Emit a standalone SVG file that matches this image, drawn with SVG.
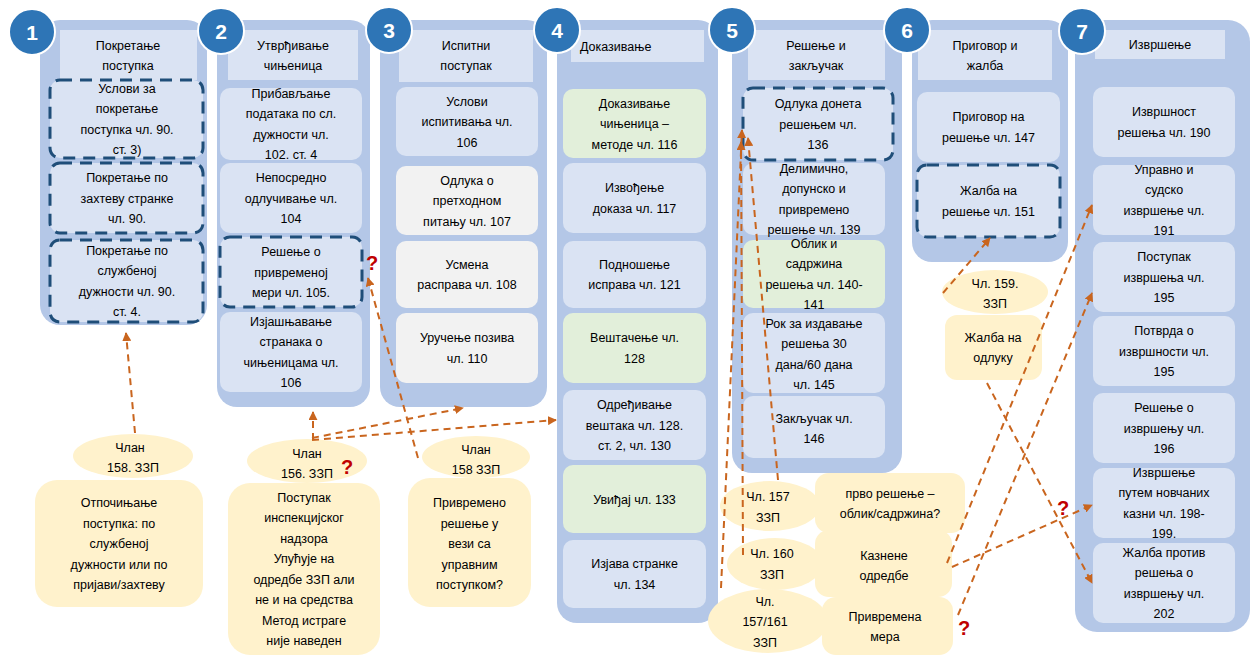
<svg xmlns="http://www.w3.org/2000/svg" width="1257" height="657" viewBox="0 0 1257 657">
<defs>
<style>
.panel{fill:#b4c7e7}
.hdr{fill:#dae3f3}
.item{fill:#dae3f3}
.green{fill:#e2efda}
.grey{fill:#f2f2f2}
.dash{fill:#dae3f3;stroke:#1f4e79;stroke-width:3;stroke-dasharray:12 8}
.yel{fill:#fff2cc}
.num{fill:#2e75b6;stroke:#fff;stroke-width:2}
text{font-family:"Liberation Sans","DejaVu Sans",sans-serif;font-size:12.5px;fill:#000;text-anchor:middle}
text.n{fill:#fff;font-weight:bold;font-size:21px}
text.q{fill:#c00000;font-weight:bold;font-size:20px}
text.l{text-anchor:start}
.conn path{stroke:#c9651e;stroke-width:2;stroke-dasharray:7 5;fill:none;marker-end:url(#ah)}
</style>
<marker id="ah" viewBox="0 0 10 10" refX="9" refY="5" markerWidth="9" markerHeight="9" markerUnits="userSpaceOnUse" orient="auto"><path d="M0,0 L10,5 L0,10 z" fill="#c9651e"/></marker>
</defs>
<rect width="1257" height="657" fill="#fff"/>

<g id="n1">
<rect class="panel" x="40" y="20" width="167" height="305" rx="20"/>
<rect class="hdr" x="60" y="30" width="137" height="50"/>
<text x="128"><tspan x="128" y="49.5">Покретање</tspan><tspan x="128" y="69.5">поступка</tspan></text>
<rect class="dash" x="50" y="80" width="153" height="78" rx="10"/>
<text><tspan x="127" y="92.5">Услови за</tspan><tspan x="127" y="113">покретање</tspan><tspan x="127" y="133.5">поступка чл. 90.</tspan><tspan x="127" y="154">ст. 3)</tspan></text>
<rect class="dash" x="50" y="163" width="153" height="70" rx="10"/>
<text><tspan x="127" y="182">Покретање по</tspan><tspan x="127" y="202.5">захтеву странке</tspan><tspan x="127" y="223">чл. 90.</tspan></text>
<rect class="dash" x="50" y="240" width="153" height="82" rx="10"/>
<text><tspan x="127" y="254.5">Покретање по</tspan><tspan x="127" y="275">службеној</tspan><tspan x="127" y="295.5">дужности чл. 90.</tspan><tspan x="127" y="316">ст. 4.</tspan></text>
<circle class="num" cx="32" cy="32" r="23"/>
<text class="n" x="32" y="39.5">1</text>
</g>

<g id="n2">
<rect class="panel" x="217" y="20" width="153" height="387" rx="20"/>
<rect class="hdr" x="228" y="30" width="130" height="50"/>
<text><tspan x="293" y="49.5">Утврђивање</tspan><tspan x="293" y="69.5">чињеница</tspan></text>
<rect class="item" x="220" y="88" width="142" height="72" rx="10"/>
<text><tspan x="291" y="97.5">Прибављање</tspan><tspan x="291" y="118">података по сл.</tspan><tspan x="291" y="138.5">дужности чл.</tspan><tspan x="291" y="159">102. ст. 4</tspan></text>
<rect class="item" x="220" y="163" width="142" height="70" rx="10"/>
<text><tspan x="291" y="182">Непосредно</tspan><tspan x="291" y="202.5">одлучивање чл.</tspan><tspan x="291" y="223">104</tspan></text>
<rect class="dash" x="220" y="237" width="142" height="70" rx="10"/>
<text><tspan x="291" y="256">Решење о</tspan><tspan x="291" y="276.5">привременој</tspan><tspan x="291" y="297">мери чл. 105.</tspan></text>
<rect class="item" x="220" y="312" width="142" height="80" rx="10"/>
<text><tspan x="291" y="325.5">Изјашњавање</tspan><tspan x="291" y="346">странака о</tspan><tspan x="291" y="366.5">чињеницама чл.</tspan><tspan x="291" y="387">106</tspan></text>
<circle class="num" cx="221" cy="31" r="23"/>
<text class="n" x="221" y="38.5">2</text>
</g>

<g id="n3">
<rect class="panel" x="380" y="20" width="167" height="387" rx="20"/>
<rect class="hdr" x="399" y="30" width="134" height="52"/>
<text><tspan x="466" y="49.5">Испитни</tspan><tspan x="466" y="69.5">поступак</tspan></text>
<rect class="item" x="396" y="87" width="142" height="69" rx="10"/>
<text><tspan x="467" y="105.5">Услови</tspan><tspan x="467" y="126">испитивања чл.</tspan><tspan x="467" y="146.5">106</tspan></text>
<rect class="grey" x="396" y="166" width="142" height="69" rx="10"/>
<text><tspan x="467" y="184.5">Одлука о</tspan><tspan x="467" y="205">претходном</tspan><tspan x="467" y="225.5">питању чл. 107</tspan></text>
<rect class="grey" x="396" y="241" width="142" height="67" rx="10"/>
<text><tspan x="467" y="268.75">Усмена</tspan><tspan x="467" y="289.25">расправа чл. 108</tspan></text>
<rect class="grey" x="396" y="313" width="142" height="70" rx="10"/>
<text><tspan x="467" y="342">Уручење позива</tspan><tspan x="467" y="362.5">чл. 110</tspan></text>
<circle class="num" cx="389" cy="30" r="23"/>
<text class="n" x="389" y="37.5">3</text>
</g>

<g id="n4">
<rect class="panel" x="557" y="20" width="161" height="603" rx="20"/>
<rect class="hdr" x="571" y="30" width="133" height="32"/>
<text class="l" x="580" y="50.5">Доказивање</text>
<rect class="green" x="563" y="89" width="143" height="69" rx="10"/>
<text><tspan x="634.5" y="107.5">Доказивање</tspan><tspan x="634.5" y="128">чињеница –</tspan><tspan x="634.5" y="148.5">методе чл. 116</tspan></text>
<rect class="item" x="563" y="163" width="143" height="70" rx="10"/>
<text><tspan x="634.5" y="192">Извођење</tspan><tspan x="634.5" y="212.5">доказа чл. 117</tspan></text>
<rect class="item" x="563" y="241" width="143" height="67" rx="10"/>
<text><tspan x="634.5" y="268.75">Подношење</tspan><tspan x="634.5" y="289.25">исправа чл. 121</tspan></text>
<rect class="green" x="563" y="313" width="143" height="70" rx="10"/>
<text><tspan x="634.5" y="342">Вештачење чл.</tspan><tspan x="634.5" y="362.5">128</tspan></text>
<rect class="item" x="563" y="390" width="143" height="70" rx="10"/>
<text><tspan x="634.5" y="409">Одређивање</tspan><tspan x="634.5" y="429.5">вештака чл. 128.</tspan><tspan x="634.5" y="450">ст. 2, чл. 130</tspan></text>
<rect class="green" x="563" y="465" width="143" height="68" rx="10"/>
<text x="634.5" y="503.5">Увиђај чл. 133</text>
<rect class="item" x="563" y="540" width="143" height="68" rx="10"/>
<text><tspan x="634.5" y="568">Изјава странке</tspan><tspan x="634.5" y="588.5">чл. 134</tspan></text>
<circle class="num" cx="557" cy="30" r="23"/>
<text class="n" x="557" y="37.5">4</text>
</g>

<g id="n5">
<rect class="panel" x="732" y="20" width="170" height="453" rx="20"/>
<rect class="hdr" x="748" y="30" width="137" height="50"/>
<text><tspan x="816" y="49.5">Решење и</tspan><tspan x="816" y="69.5">закључак</tspan></text>
<rect class="dash" x="743" y="88" width="150" height="72" rx="10"/>
<text><tspan x="818" y="108">Одлука донета</tspan><tspan x="818" y="128.5">решењем чл.</tspan><tspan x="818" y="149">136</tspan></text>
<rect class="item" x="743" y="163" width="142" height="72" rx="10"/>
<text><tspan x="814" y="172.5">Делимично,</tspan><tspan x="814" y="193">допунско и</tspan><tspan x="814" y="213.5">привремено</tspan><tspan x="814" y="234">решење чл. 139</tspan></text>
<rect class="green" x="743" y="240" width="142" height="68" rx="10"/>
<text><tspan x="814" y="247.5">Облик и</tspan><tspan x="814" y="268">садржина</tspan><tspan x="814" y="288.5">решења чл. 140-</tspan><tspan x="814" y="309">141</tspan></text>
<rect class="item" x="743" y="313" width="142" height="80" rx="10"/>
<text><tspan x="814" y="327.5">Рок за издавање</tspan><tspan x="814" y="348">решења 30</tspan><tspan x="814" y="368.5">дана/60 дана</tspan><tspan x="814" y="389">чл. 145</tspan></text>
<rect class="item" x="743" y="396" width="142" height="62" rx="10"/>
<text><tspan x="814" y="422.5">Закључак чл.</tspan><tspan x="814" y="442.5">146</tspan></text>
<circle class="num" cx="732" cy="30" r="23"/>
<text class="n" x="732" y="37.5">5</text>
</g>

<g id="n6">
<rect class="panel" x="912" y="20" width="156" height="242" rx="20"/>
<rect class="hdr" x="918" y="30" width="134" height="50"/>
<text><tspan x="985" y="49.5">Приговор и</tspan><tspan x="985" y="69.5">жалба</tspan></text>
<rect class="item" x="917" y="92" width="143" height="70" rx="10"/>
<text><tspan x="988.5" y="121">Приговор на</tspan><tspan x="988.5" y="141.5">решење чл. 147</tspan></text>
<rect class="dash" x="917" y="165" width="143" height="72" rx="10"/>
<text><tspan x="988.5" y="195">Жалба на</tspan><tspan x="988.5" y="215.5">решење чл. 151</tspan></text>
<circle class="num" cx="907" cy="30" r="23"/>
<text class="n" x="907" y="37.5">6</text>
</g>

<g id="n7">
<rect class="panel" x="1075" y="20" width="175" height="612" rx="22"/>
<rect class="hdr" x="1095" y="30" width="130" height="29"/>
<text x="1160" y="49">Извршење</text>
<rect class="item" x="1093" y="87" width="142" height="70" rx="10"/>
<text><tspan x="1164" y="116">Извршност</tspan><tspan x="1164" y="136.5">решења чл. 190</tspan></text>
<rect class="item" x="1093" y="165" width="142" height="70" rx="10"/>
<text><tspan x="1164" y="173.75">Управно и</tspan><tspan x="1164" y="194.25">судско</tspan><tspan x="1164" y="214.75">извршење чл.</tspan><tspan x="1164" y="235.25">191</tspan></text>
<rect class="item" x="1093" y="242" width="142" height="70" rx="10"/>
<text><tspan x="1164" y="261">Поступак</tspan><tspan x="1164" y="281.5">извршења чл.</tspan><tspan x="1164" y="302">195</tspan></text>
<rect class="item" x="1093" y="316" width="142" height="70" rx="10"/>
<text><tspan x="1164" y="335">Потврда о</tspan><tspan x="1164" y="355.5">извршности чл.</tspan><tspan x="1164" y="376">195</tspan></text>
<rect class="item" x="1093" y="393" width="142" height="70" rx="10"/>
<text><tspan x="1164" y="412">Решење о</tspan><tspan x="1164" y="432.5">извршењу чл.</tspan><tspan x="1164" y="453">196</tspan></text>
<rect class="item" x="1093" y="468" width="142" height="70" rx="10"/>
<text><tspan x="1164" y="476.75">Извршење</tspan><tspan x="1164" y="497.25">путем новчаних</tspan><tspan x="1164" y="517.75">казни чл. 198-</tspan><tspan x="1164" y="538.25">199.</tspan></text>
<rect class="item" x="1093" y="543" width="142" height="80" rx="10"/>
<text><tspan x="1164" y="556.75">Жалба против</tspan><tspan x="1164" y="577.25">решења о</tspan><tspan x="1164" y="597.75">извршењу чл.</tspan><tspan x="1164" y="618.25">202</tspan></text>
<circle class="num" cx="1082" cy="31" r="23"/>
<text class="n" x="1082" y="38.5">7</text>
</g>

<g id="b1">
<ellipse class="yel" cx="133" cy="456" rx="60" ry="22"/>
<text><tspan x="130" y="451.5">Члан</tspan><tspan x="133" y="471.5">158. ЗЗП</tspan></text>
</g>
<g id="b2">
<rect class="yel" x="35" y="480" width="168" height="127" rx="22"/>
<text><tspan x="119" y="507">Отпочињање</tspan><tspan x="119" y="527.5">поступка: по</tspan><tspan x="119" y="548">службеној</tspan><tspan x="119" y="568.5">дужности или по</tspan><tspan x="119" y="589">пријави/захтеву</tspan></text>
</g>
<g id="b3">
<ellipse class="yel" cx="307" cy="461" rx="60" ry="22"/>
<text><tspan x="307" y="457.5">Члан</tspan><tspan x="307" y="477.5">156. ЗЗП</tspan></text>
</g>
<g id="b4">
<rect class="yel" x="228" y="483" width="152" height="172" rx="22"/>
<text><tspan x="304" y="501.75">Поступак</tspan><tspan x="304" y="522.25">инспекцијског</tspan><tspan x="304" y="542.75">надзора</tspan><tspan x="304" y="563.25">Упућује на</tspan><tspan x="304" y="583.75">одредбе ЗЗП али</tspan><tspan x="304" y="604.25">не и на средства</tspan><tspan x="304" y="624.75">Метод истраге</tspan><tspan x="304" y="645.25">није наведен</tspan></text>
</g>
<g id="b5">
<ellipse class="yel" cx="476" cy="457" rx="54" ry="21"/>
<text><tspan x="476" y="453.5">Члан</tspan><tspan x="476" y="473.5">158 ЗЗП</tspan></text>
</g>
<g id="b6">
<rect class="yel" x="408" y="478" width="123" height="129" rx="22"/>
<text><tspan x="469.5" y="507">Привремено</tspan><tspan x="469.5" y="527.5">решење у</tspan><tspan x="469.5" y="548">вези са</tspan><tspan x="469.5" y="568.5">управним</tspan><tspan x="469.5" y="589">поступком?</tspan></text>
</g>
<g id="b7">
<ellipse class="yel" cx="770" cy="506" rx="50" ry="25"/>
<text><tspan x="768" y="500.5">Чл. 157</tspan><tspan x="768" y="521.5">ЗЗП</tspan></text>
</g>
<g id="b8">
<rect class="yel" x="815" y="473" width="150" height="60" rx="14"/>
<text><tspan x="890" y="497.5">прво решење –</tspan><tspan x="890" y="518">облик/садржина?</tspan></text>
</g>
<g id="b9">
<ellipse class="yel" cx="775" cy="564" rx="48" ry="26"/>
<text><tspan x="772" y="558">Чл. 160</tspan><tspan x="772" y="578.5">ЗЗП</tspan></text>
</g>
<g id="b10">
<rect class="yel" x="815" y="530" width="137" height="67" rx="14"/>
<text><tspan x="884" y="559.5">Казнене</tspan><tspan x="884" y="580">одредбе</tspan></text>
</g>
<g id="b11">
<ellipse class="yel" cx="768" cy="621" rx="60" ry="32"/>
<text><tspan x="765" y="605.5">Чл.</tspan><tspan x="765" y="626">157/161</tspan><tspan x="765" y="646.5">ЗЗП</tspan></text>
</g>
<g id="b12">
<rect class="yel" x="822" y="597" width="131" height="58" rx="14"/>
<text><tspan x="885" y="620.5">Привремена</tspan><tspan x="885" y="641">мера</tspan></text>
</g>
<g id="b13">
<ellipse class="yel" cx="995" cy="292" rx="53" ry="22"/>
<text><tspan x="995" y="287.5">Чл. 159.</tspan><tspan x="995" y="307.5">ЗЗП</tspan></text>
</g>
<g id="b14">
<rect class="yel" x="945" y="315" width="97" height="65" rx="12"/>
<text><tspan x="993" y="341.5">Жалба на</tspan><tspan x="993" y="362">одлуку</tspan></text>
</g>

<g id="connectors" class="conn">
<path d="M135,433 L126,333"/>
<path d="M313,440 L313,412"/>
<path d="M312,438 L463,408"/>
<path d="M312,440 L556,420"/>
<path d="M418,458 L368,278"/>
<path d="M721,588 L742,130"/>
<path d="M743,555 L741,142"/>
<path d="M778,480 L748,138"/>
<path d="M943,293 L990,238"/>
<path d="M987,383 L1092,583"/>
<path d="M947,563 L1092,205"/>
<path d="M952,567 L1092,505"/>
<path d="M958,615 L1092,293"/>
</g>

<g id="marks">
<text class="q" x="372" y="270">?</text>
<text class="q" x="347" y="474">?</text>
<text class="q" x="1063" y="515">?</text>
<text class="q" x="964" y="635">?</text>
</g>
</svg>
